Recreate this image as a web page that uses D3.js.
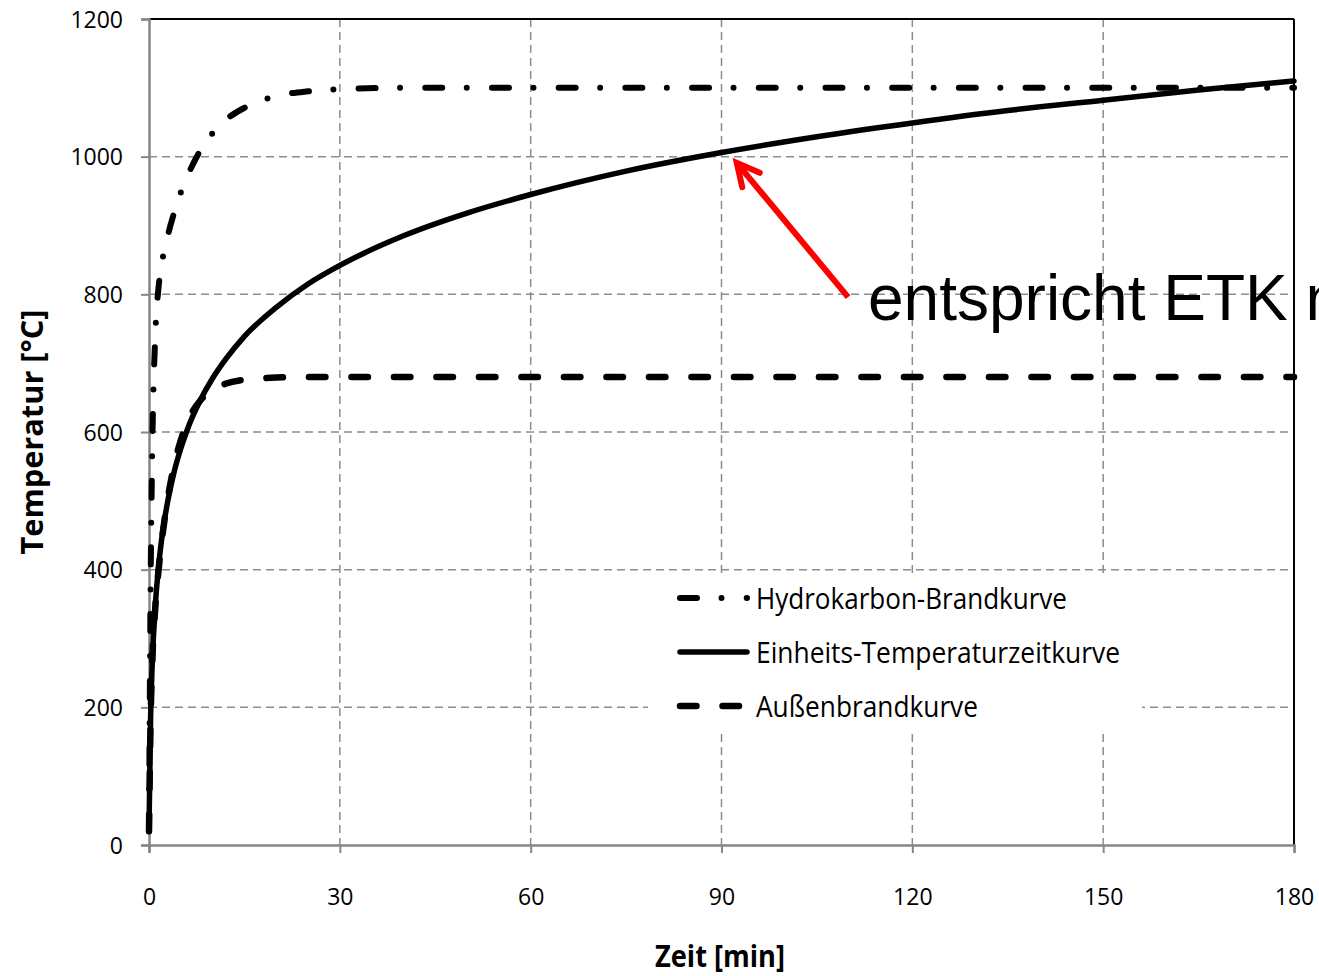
<!DOCTYPE html>
<html>
<head>
<meta charset="utf-8">
<script src="https://cdn.jsdelivr.net/npm/d3@7"></script>
<style>
  body { margin: 0; background: #fff; overflow: hidden; }
  svg { display: block; }
  .tick-label { font-family: 'Open Sans', sans-serif; font-size: 23px; fill: #000; }
  .axis-title { font-family: 'Open Sans', sans-serif; font-size: 31px; font-weight: bold; fill: #000; }
  .legend-label { font-family: 'Open Sans', sans-serif; font-size: 29px; fill: #000; }
  .note { font-family: 'Liberation Sans', Arial, sans-serif; font-size: 64px; fill: #000; }
</style>
</head>
<body>
<svg id="drawing_region"></svg>
<script>
// Zeit in Minuten und die Temperaturen der drei Kurven
const timeMin  = [0, 0.25, 0.5, 1, 1.5, 2, 3, 4, 5, 6, 8, 10, 12, 15, 20, 25, 30, 40, 50, 60, 75, 90, 105, 120, 135, 150, 165, 180];
const hcTemp   = [20, 373, 568, 743, 810, 844, 887, 920, 948, 971, 1008, 1034, 1053, 1071, 1088, 1095, 1098, 1100, 1100, 1100, 1100, 1100, 1100, 1100, 1100, 1100, 1100, 1100];
const etkTemp  = [20, 185, 261, 349, 404, 445, 502, 544, 576, 603, 645, 678, 705, 739, 781, 815, 842, 885, 918, 945, 979, 1006, 1029, 1049, 1067, 1082, 1097, 1110];
const abkTemp  = [20, 182, 263, 346, 399, 441, 506, 554, 588, 614, 645, 661, 670, 676, 679, 680, 680, 680, 680, 680, 680, 680, 680, 680, 680, 680, 680, 680];

const seriesNames = ['Hydrokarbon-Brandkurve', 'Einheits-Temperaturzeitkurve', 'Außenbrandkurve'];
const xTicks = [0, 30, 60, 90, 120, 150, 180];
const yTicks = [0, 200, 400, 600, 800, 1000, 1200];

const arrowFrom = { t: 109.9, T: 796 };   // Ende Pfeil (beim Text)
const arrowTo   = { t: 92.4, T: 991 };    // Spitze an der ETK bei 90 min
const noteText  = 'entspricht ETK nach 90 min';

const config = {
    width: 1319,
    height: 976,
    margin: { top: 19, right: 25, bottom: 131, left: 149 }
};

const svg = d3.select('#drawing_region')
    .attr('width', config.width)
    .attr('height', config.height);

const innerW = config.width - config.margin.left - config.margin.right;
const innerH = config.height - config.margin.top - config.margin.bottom;

const chart = svg.append('g')
    .attr('transform', `translate(${config.margin.left}, ${config.margin.top})`);

const xscale = d3.scaleLinear().domain([0, 180]).range([0, innerW]);
const yscale = d3.scaleLinear().domain([0, 1200]).range([innerH, 0]);

// Gitter
chart.append('g')
    .selectAll('line')
    .data(yTicks.filter(v => v > 0 && v < 1200))
    .enter()
    .append('line')
    .attr('x1', 0).attr('x2', innerW)
    .attr('y1', d => yscale(d)).attr('y2', d => yscale(d))
    .attr('stroke', '#8c8c8c').attr('stroke-width', 1.5)
    .attr('stroke-dasharray', '8,5');

chart.append('g')
    .selectAll('line')
    .data(xTicks.filter(v => v > 0 && v < 180))
    .enter()
    .append('line')
    .attr('y1', 0).attr('y2', innerH)
    .attr('x1', d => xscale(d)).attr('x2', d => xscale(d))
    .attr('stroke', '#8c8c8c').attr('stroke-width', 1.5)
    .attr('stroke-dasharray', '8,5');

// Rahmen oben / rechts
chart.append('line')
    .attr('x1', 0).attr('x2', innerW).attr('y1', 0).attr('y2', 0)
    .attr('stroke', '#000').attr('stroke-width', 2);
chart.append('line')
    .attr('x1', innerW).attr('x2', innerW).attr('y1', 0).attr('y2', innerH)
    .attr('stroke', '#000').attr('stroke-width', 2);

// Achsen
const xaxis = d3.axisBottom(xscale).tickValues(xTicks).tickSize(8).tickFormat(d3.format('d'));
const yaxis = d3.axisLeft(yscale).tickValues(yTicks).tickSize(8).tickFormat(d3.format('d'));

const xaxis_group = chart.append('g')
    .attr('transform', `translate(0, ${innerH})`)
    .call(xaxis);
const yaxis_group = chart.append('g')
    .call(yaxis);

[xaxis_group, yaxis_group].forEach(g => {
    g.select('.domain').attr('stroke', '#868686').attr('stroke-width', 2.5);
    g.selectAll('.tick line').attr('stroke', '#868686').attr('stroke-width', 2);
    g.selectAll('.tick text').attr('class', 'tick-label').attr('font-family', null).attr('font-size', null);
});
xaxis_group.selectAll('.tick text').attr('y', 60).attr('dy', 0);
yaxis_group.selectAll('.tick text').attr('x', -26).attr('dy', '0.36em');

// Kurven
const lineGen = d3.line()
    .x(d => xscale(d[0]))
    .y(d => yscale(d[1]))
    .curve(d3.curveMonotoneX);

const styles = [
    { values: hcTemp,  width: 6,   dash: '17,24.5,0,25.2', labelW: 311 },
    { values: etkTemp, width: 5.5, dash: null,             labelW: 364 },
    { values: abkTemp, width: 6.5, dash: '16.5,26',        labelW: 222 }
];

// Legende (weisser Kasten ueber dem Gitter)
const legend = chart.append('g');
legend.append('rect')
    .attr('x', 648 - config.margin.left).attr('y', 576 - config.margin.top)
    .attr('width', 494).attr('height', 158)
    .attr('fill', '#fff');

styles.forEach((s, i) => {
    chart.append('path')
        .datum(timeMin.map((t, j) => [t, s.values[j]]))
        .attr('fill', 'none')
        .attr('stroke', '#000')
        .attr('stroke-width', s.width)
        .attr('stroke-linecap', 'round')
        .attr('stroke-linejoin', 'round')
        .attr('stroke-dasharray', s.dash)
        .attr('d', lineGen);

    const ly = 598 + i * 54 - config.margin.top;
    const lx0 = 680 - config.margin.left;
    const lx1 = (i === 2 ? 740 : 747) - config.margin.left;
    legend.append('line')
        .attr('x1', lx0).attr('x2', lx1)
        .attr('y1', ly).attr('y2', ly)
        .attr('stroke', '#000')
        .attr('stroke-width', s.width)
        .attr('stroke-linecap', 'round')
        .attr('stroke-dasharray', s.dash);
    legend.append('text')
        .attr('class', 'legend-label')
        .attr('x', 756 - config.margin.left)
        .attr('y', ly + 11)
        .attr('textLength', s.labelW)
        .attr('lengthAdjust', 'spacingAndGlyphs')
        .text(seriesNames[i]);
});

// Achsentitel
svg.append('text')
    .attr('class', 'axis-title')
    .attr('text-anchor', 'middle')
    .attr('x', 720).attr('y', 967)
    .attr('textLength', 130)
    .attr('lengthAdjust', 'spacingAndGlyphs')
    .text('Zeit [min]');

svg.append('text')
    .attr('class', 'axis-title')
    .attr('text-anchor', 'middle')
    .attr('transform', 'translate(43, 432) rotate(-90)')
    .attr('textLength', 245)
    .attr('lengthAdjust', 'spacingAndGlyphs')
    .text('Temperatur [°C]');

// Pfeil + Hinweis
const ax0 = xscale(arrowFrom.t), ay0 = yscale(arrowFrom.T);
const ax1 = xscale(arrowTo.t),   ay1 = yscale(arrowTo.T);
const ang = Math.atan2(ay1 - ay0, ax1 - ax0);
const headLen = 25, headAng = 0.47;

const note = chart.append('g');
note.append('line')
    .attr('x1', ax0).attr('y1', ay0).attr('x2', ax1).attr('y2', ay1)
    .attr('stroke', '#ff0000').attr('stroke-width', 6);
note.append('path')
    .attr('d', `M${ax1 - headLen * Math.cos(ang - headAng)},${ay1 - headLen * Math.sin(ang - headAng)}` +
               `L${ax1},${ay1}` +
               `L${ax1 - headLen * Math.cos(ang + headAng)},${ay1 - headLen * Math.sin(ang + headAng)}`)
    .attr('fill', 'none')
    .attr('stroke', '#ff0000').attr('stroke-width', 6)
    .attr('stroke-linecap', 'round').attr('stroke-linejoin', 'miter');

note.append('text')
    .attr('class', 'note')
    .attr('x', 868 - config.margin.left)
    .attr('y', 320 - config.margin.top)
    .text(noteText);
</script>
</body>
</html>
